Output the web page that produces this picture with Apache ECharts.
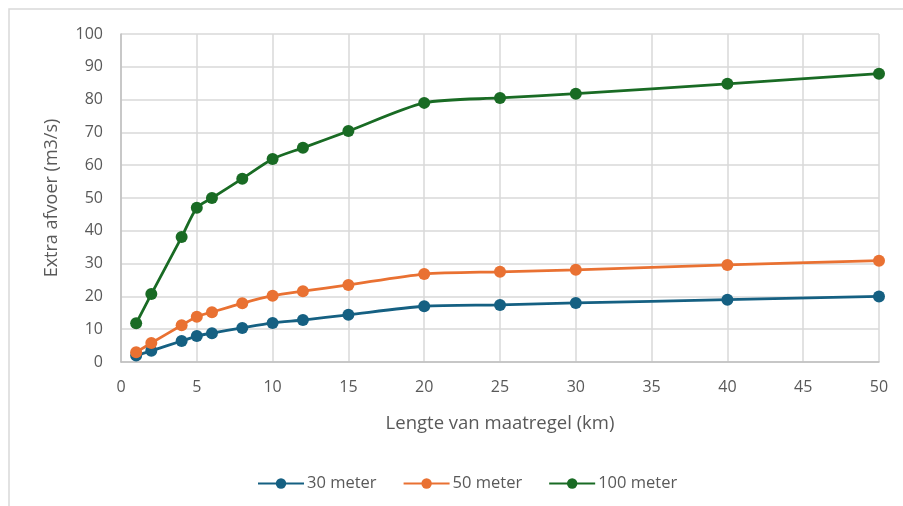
<!DOCTYPE html>
<html>
<head>
<meta charset="utf-8">
<script src="https://cdn.jsdelivr.net/npm/echarts@6/dist/echarts.min.js"></script>
<style>
html,body{margin:0;padding:0;background:#fff;}
#c{width:903px;height:506px;}
</style>
</head>
<body>
<div id="c"></div>
<script>
const lengths = [1, 2, 4, 5, 6, 8, 10, 12, 15, 20, 25, 30, 40, 50];
const s30 = [2, 3.4, 6.4, 7.9, 8.8, 10.4, 11.9, 12.8, 14.4, 17, 17.4, 18, 19, 20];
const s50 = [3, 5.8, 11.2, 13.8, 15.2, 17.9, 20.2, 21.6, 23.5, 26.8, 27.5, 28.1, 29.6, 30.9];
const s100 = [11.8, 20.7, 38.1, 47, 50, 55.9, 61.9, 65.3, 70.4, 79, 80.5, 81.8, 84.8, 87.9];
const seriesNames = ['30 meter', '50 meter', '100 meter'];
const colors = ['#156082', '#E97132', '#196B24'];

const font = 'Open Sans, Liberation Sans, sans-serif';
const chart = echarts.init(document.getElementById('c'));
function mk(name, vals, color) {
  return {
    name: name, type: 'line', smooth: 0.25,
    data: lengths.map((x, i) => [x, vals[i]]),
    symbol: 'circle', symbolSize: 12,
    lineStyle: {color: color, width: 2.8},
    itemStyle: {color: color},
    z: 3
  };
}
chart.setOption({
  animation: false,
  textStyle: {fontFamily: font},
  graphic: [{
    type: 'rect', shape: {x: 9, y: 9, width: 1000, height: 1000},
    style: {fill: 'none', stroke: '#d9d9d9', lineWidth: 1.5}, silent: true
  }],
  grid: {left: 121, right: 24, top: 34, bottom: 144},
  legend: {
    data: seriesNames, top: 470, left: 252,
    itemWidth: 46, itemHeight: 13, itemGap: 26,
    textStyle: {color: '#595959', fontSize: 16.5, fontFamily: font, padding: [0, 0, 0, -2]}
  },
  xAxis: {
    type: 'value', min: 0, max: 50, interval: 5,
    name: 'Lengte van maatregel (km)', nameLocation: 'middle', nameGap: 52,
    nameTextStyle: {color: '#595959', fontSize: 18.5, fontFamily: font},
    axisLine: {show: true, lineStyle: {color: '#bfbfbf', width: 1.5}},
    axisTick: {show: false},
    axisLabel: {color: '#595959', fontSize: 16, margin: 17, fontFamily: font},
    splitLine: {show: true, lineStyle: {color: '#d9d9d9', width: 1.5}}
  },
  yAxis: {
    type: 'value', min: 0, max: 100, interval: 10,
    name: 'Extra afvoer (m3/s)', nameLocation: 'middle', nameGap: 60,
    nameTextStyle: {color: '#595959', fontSize: 18, fontFamily: font},
    axisLine: {show: true, lineStyle: {color: '#bfbfbf', width: 1.5}},
    axisTick: {show: false},
    axisLabel: {color: '#595959', fontSize: 16, margin: 18, fontFamily: font},
    splitLine: {show: true, lineStyle: {color: '#d9d9d9', width: 1.5}}
  },
  series: [
    mk(seriesNames[0], s30, colors[0]),
    mk(seriesNames[1], s50, colors[1]),
    mk(seriesNames[2], s100, colors[2])
  ]
});
</script>
</body>
</html>
